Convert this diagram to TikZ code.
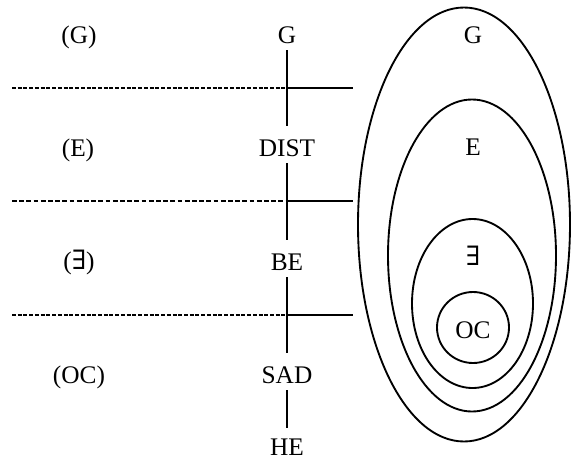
\documentclass[tikz,border=0pt]{standalone}
\usepackage{fontspec}
\setmainfont{Liberation Serif}
\newfontfamily\symfont{DejaVu Serif}
\usetikzlibrary{calc}
\tikzset{
  lvl/.style={font=\fontsize{19}{21}\selectfont, inner sep=0pt,
    text height=12.5pt, text depth=0pt},
  link/.style={line width=1.3pt, shorten <=5pt, shorten >=10pt},
  bound/.style={line width=2pt, dash pattern=on 3pt off 1.3pt},
  boundthin/.style={line width=1pt, dash pattern=on 3.6pt off 1.8pt},
  ring/.style={line width=1.4pt}
}
\newcommand{\ex}{{\symfont\fontsize{20}{22}\selectfont ∃}}

\begin{document}
\begin{tikzpicture}[x=0.75pt,y=-0.75pt]
\useasboundingbox (0,0) rectangle (571,461);

% left column: levels
\node[lvl] (lg) at (79,35) {(G)};
\node[lvl] (le) at (78,148) {(E)};
\node[lvl] (lx) at (79,261) {(\ex)};
\node[lvl] (loc) at (79,375) {(OC)};

% middle column: the chain
\node[lvl] (g) at (287,35) {G};
\node[lvl] (dist) at (287,148) {DIST};
\node[lvl] (be) at (287,262) {BE};
\node[lvl] (sad) at (287,375) {SAD};
\node[lvl] (he) at (287,447) {HE};

\draw[link] (g.south) -- (dist.north);
\draw[link] (dist.south) -- (be.north);
\draw[link] (be.south) -- (sad.north);
\draw[link, shorten >=8pt] (sad.south) -- (he.north);

% level boundaries
\coordinate (a1) at (12,88);  \coordinate (b1) at (353,88);
\coordinate (a2) at (12,201); \coordinate (b2) at (353,201);
\coordinate (a3) at (12,315); \coordinate (b3) at (353,315);
\draw[bound] (a1) -- (a1 -| g);
\draw[line width=2pt] (a1 -| g) -- (b1);
\draw[boundthin] (a2) -- (a2 -| g);
\draw[line width=1pt] (a2 -| g) -- (b2);
\draw[bound] (a3) -- (a3 -| g);
\draw[line width=2pt] (a3 -| g) -- (b3);

% nested ellipses
\draw[ring] (464,224.5) ellipse [x radius=106, y radius=217];
\draw[ring] (472,255.5) ellipse [x radius=84, y radius=156];
\draw[ring] (472.5,303.5) ellipse [x radius=60.5, y radius=84.5];
\draw[ring] (473,327.5) ellipse [x radius=36, y radius=35.5];

\node[lvl] (rg) at (473,35) {G};
\node[lvl] (re) at (473,147) {E};
\node[lvl] (rx) at (473,257) {\ex};
\node[lvl] (roc) at (473,330) {OC};
\end{tikzpicture}
\end{document}
